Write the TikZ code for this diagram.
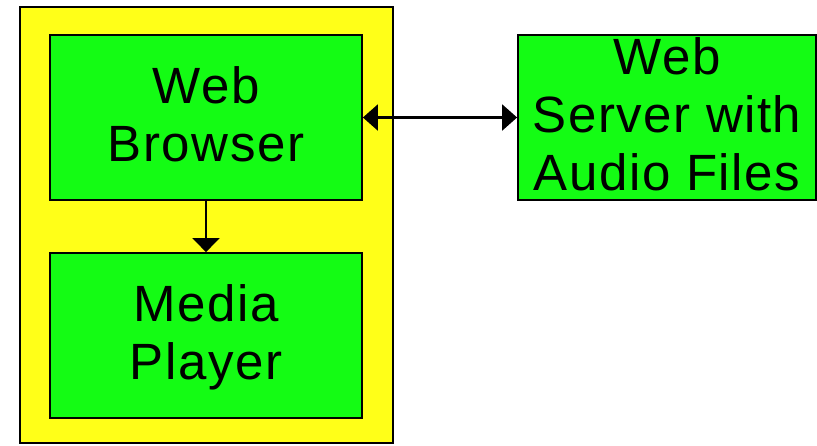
\documentclass[tikz,border=0pt]{standalone}
\usepackage{fontspec}
\setmainfont{Liberation Sans}[LetterSpace=3]
\usetikzlibrary{arrows.meta,positioning}
\definecolor{boxgreen}{RGB}{20,252,20}
\definecolor{hostyellow}{RGB}{255,255,24}

\begin{document}
\begin{tikzpicture}[x=1pt, y=-1pt,
    box/.style={draw, line width=1.8pt, fill=#1, inner sep=0pt, align=center, text depth=6pt, font=\fontsize{51}{58}\selectfont},
    arr/.style={-{Triangle[length=14pt, width=27pt]}, line width=2.2pt},
    biarr/.style={{Triangle[length=15pt, width=26pt]}-{Triangle[length=15pt, width=26pt]}, line width=2.2pt}
]
\useasboundingbox (0,0) rectangle (817,445);

% client machine
\node[box=hostyellow, minimum width=373pt, minimum height=436pt] (client) at (206.5,225) {};
\node[box=boxgreen, minimum width=312pt, minimum height=165pt] (browser) at (206,117.5) {Web\\Browser};
\node[box=boxgreen, minimum width=312pt, minimum height=165pt] (player) at (206,335.5) {Media\\Player};

% server side
\node[box=boxgreen, minimum width=298pt, minimum height=165pt] (server) at (667,117.5) {Web\\Server with\\Audio Files};

\draw[arr] (browser) -- (player);
\draw[biarr] (browser) -- (server);
\end{tikzpicture}
\end{document}
